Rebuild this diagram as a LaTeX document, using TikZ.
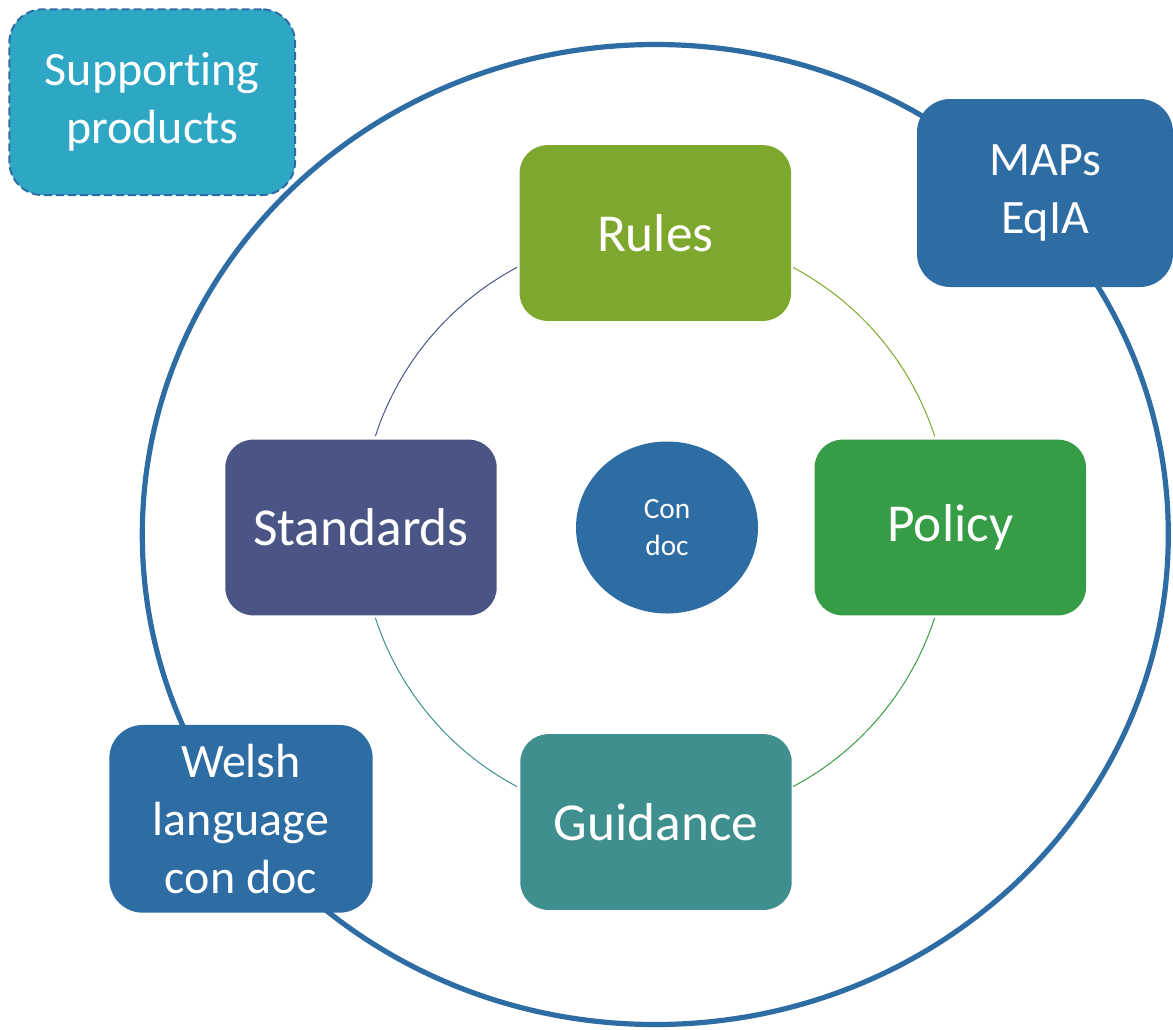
\documentclass[tikz,border=0pt]{standalone}
\usepackage{fontspec}
\setmainfont[Ligatures=NoCommon]{Carlito}
\usetikzlibrary{shapes.geometric}

\definecolor{condocblue}{HTML}{2E6CA4}
\definecolor{rulesgreen}{HTML}{7EA72E}
\definecolor{policygreen}{HTML}{369C46}
\definecolor{standardsblue}{HTML}{4A5586}
\definecolor{guidanceteal}{HTML}{3F8F8E}
\definecolor{supportcyan}{HTML}{2EA7C5}

\begin{document}
\begin{tikzpicture}[x=0.75pt,y=-0.75pt,
    part/.style={fill=#1, rounded corners=21pt, minimum width=203.6pt, minimum height=131.8pt,
      inner sep=0pt, text=white, font=\fontsize{40}{48}\selectfont},
    extra/.style={fill=condocblue, rounded corners=25pt, inner sep=0pt, text=white, align=center,
      font=\fontsize{36}{43.5}\selectfont},
    link/.style={line width=0.75pt}]
  \useasboundingbox (0,0) rectangle (1173,1029);

  % outer ring
  \draw[condocblue, line width=3.9pt] (655.3,534.5) ellipse [x radius=384.75pt, y radius=367.5pt];

  % inner cycle between the four parts
  \coordinate (hub) at (655,527);
  \draw[link, rulesgreen] ([shift={(18:220.5pt)}]hub) arc[start angle=18, end angle=62, radius=220.5pt];
  \draw[link, standardsblue] ([shift={(118:220.5pt)}]hub) arc[start angle=118, end angle=162, radius=220.5pt];
  \draw[link, guidanceteal] ([shift={(198:220.5pt)}]hub) arc[start angle=198, end angle=242, radius=220.5pt];
  \draw[link, policygreen] ([shift={(298:220.5pt)}]hub) arc[start angle=298, end angle=342, radius=220.5pt];

  \node[part=rulesgreen] (rules) at (655.3,233) {Rules};
  \node[part=policygreen] (policy) at (950.3,527.5) {Policy};
  \node[part=standardsblue] (standards) at (361,527.5) {Standards};
  \node[part=guidanceteal] (guidance) at (656,822) {Guidance};

  \node[ellipse, fill=condocblue, minimum width=136.5pt, minimum height=129pt, text=white,
    align=center, font=\fontsize{22}{27.5}\selectfont] (condoc) at (667,527.5) {Con\\doc};

  % products around the ring
  \node[extra, minimum width=192pt, minimum height=141pt] (maps) at (1045,193) {MAPs\\EqIA};
  \node[extra, minimum width=197.5pt, minimum height=140.8pt] (welsh) at (241,818.8) {Welsh\\language\\con doc};
  \node[extra, fill=supportcyan, draw=condocblue, line width=1.5pt, dash pattern=on 6pt off 3pt,
    minimum width=214.3pt, minimum height=139.3pt] (support) at (152.2,102.2) {Supporting\\products};
\end{tikzpicture}
\end{document}
